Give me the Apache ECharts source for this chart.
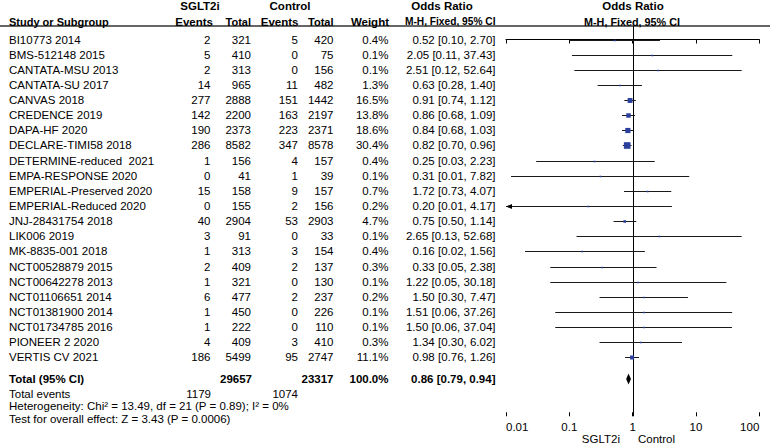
<!DOCTYPE html>
<html>
<head>
<meta charset="utf-8">
<script src="https://cdn.jsdelivr.net/npm/echarts@6.0.0/dist/echarts.min.js"></script>
<style>
html,body{margin:0;padding:0;background:#fff;}
#chart{width:770px;height:448px;}
</style>
</head>
<body>
<div id="chart"></div>
<script>
// ---------------- DATA ----------------
const studies = ["BI10773 2014","BMS-512148 2015","CANTATA-MSU 2013","CANTATA-SU 2017","CANVAS 2018","CREDENCE 2019","DAPA-HF 2020","DECLARE-TIMI58 2018","DETERMINE-reduced  2021","EMPA-RESPONSE 2020","EMPERIAL-Preserved 2020","EMPERIAL-Reduced 2020","JNJ-28431754 2018","LIK006 2019","MK-8835-001 2018","NCT00528879 2015","NCT00642278 2013","NCT01106651 2014","NCT01381900 2014","NCT01734785 2016","PIONEER 2 2020","VERTIS CV 2021"];
const sglt2Events = [2,5,2,14,277,142,190,286,1,0,15,0,40,3,1,2,1,6,1,1,4,186];
const sglt2Total  = [321,410,313,965,2888,2200,2373,8582,156,41,158,155,2904,91,313,409,321,477,450,222,409,5499];
const ctrlEvents  = [5,0,0,11,151,163,223,347,4,1,9,2,53,0,3,2,0,2,0,0,3,95];
const ctrlTotal   = [420,75,156,482,1442,2197,2371,8578,157,39,157,156,2903,33,154,137,130,237,226,110,410,2747];
const weights     = [0.4,0.1,0.1,1.3,16.5,13.8,18.6,30.4,0.4,0.1,0.7,0.2,4.7,0.1,0.4,0.3,0.1,0.2,0.1,0.1,0.3,11.1];
const oddsRatio   = [0.52,2.05,2.51,0.63,0.91,0.86,0.84,0.82,0.25,0.31,1.72,0.20,0.75,2.65,0.16,0.33,1.22,1.50,1.51,1.50,1.34,0.98];
const ciLower     = [0.10,0.11,0.12,0.28,0.74,0.68,0.68,0.70,0.03,0.012,0.73,0.0096,0.50,0.13,0.02,0.05,0.05,0.30,0.06,0.06,0.30,0.76];
const ciUpper     = [2.70,37.43,52.64,1.40,1.12,1.09,1.03,0.96,2.23,7.82,4.07,4.17,1.14,52.68,1.56,2.38,30.18,7.47,37.26,37.04,6.02,1.26];

const totalSglt2 = 29657, totalCtrl = 23317, totalWeight = 100.0;
const totalEventsSglt2 = 1179, totalEventsCtrl = 1074;
const pooled = [0.86, 0.79, 0.94];
const heterogeneityText = "Heterogeneity: Chi\u00b2 = 13.49, df = 21 (P = 0.89); I\u00b2 = 0%";
const overallText = "Test for overall effect: Z = 3.43 (P = 0.0006)";

const tickValues = [0.01, 0.1, 1, 10, 100];
const tickLabels = ["0.01", "0.1", "1", "10", "100"];
const groupLabels = ["SGLT2i", "Control"];
const favourLabels = ["SGLT2i", "Control"];

// ---------------- LAYOUT ----------------
const W = 770, H = 448;
const rowH = 15.14, row0Y = 39.5;
const rowOf = y => (y - row0Y) / rowH;     // pixel -> row index (layout only)
const FONT = 'Arial, "Liberation Sans", sans-serif';
const FS = 11.5;
const plotLeft = 506, plotRight = 759.3, plotTop = 26, plotBottom = 416.3;
const xMin = 0.01, xMax = 100;

const rowTotal = 22.42, rowEvents = 23.39, rowHet = 24.23, rowTest = 25.07;
const rowHead1 = -2.19, rowHead2 = -1.17, rowFavour = rowOf(439);

// column anchors (px)
const colName = 9, colE1 = 210.5, colT1 = 251, colE2 = 298, colT2 = 333.5, colW = 388.5, colOR = 495.5;

const fmtCI = (o, l, h) => o.toFixed(2) + " [" + l.toFixed(2) + ", " + h.toFixed(2) + "]";

// ---------------- TABLE TEXT ----------------
const texts = [];
function T(x, row, text, align, bold, size) { texts.push([x, row, text, align, bold ? 1 : 0, size || FS]); }
T(200, rowHead1, groupLabels[0], 'center', true);
T(290, rowHead1, groupLabels[1], 'center', true);
T(442, rowHead1, "Odds Ratio", 'center', true);
T(633, rowHead1, "Odds Ratio", 'center', true);
T(colName, rowHead2, "Study or Subgroup", 'left', true, 11);
T(213, rowHead2, "Events", 'right', true);
T(colT1, rowHead2, "Total", 'right', true, 11);
T(298.5, rowHead2, "Events", 'right', true);
T(colT2, rowHead2, "Total", 'right', true, 11);
T(389, rowHead2, "Weight", 'right', true);
T(colOR, rowHead2, "M-H, Fixed, 95% CI", 'right', true, 10.2);
T(632, rowHead2, "M-H, Fixed, 95% CI", 'center', true, 10.8);
studies.forEach((s, i) => {
  T(colName, i, s, 'left', false);
  T(colE1, i, String(sglt2Events[i]), 'right', false);
  T(colT1, i, String(sglt2Total[i]), 'right', false);
  T(colE2, i, String(ctrlEvents[i]), 'right', false);
  T(colT2, i, String(ctrlTotal[i]), 'right', false);
  T(colW, i, weights[i].toFixed(1) + "%", 'right', false);
  T(colOR, i, fmtCI(oddsRatio[i], ciLower[i], ciUpper[i]), 'right', false);
});
T(colName, rowTotal, "Total (95% CI)", 'left', true);
T(colT1 + 1, rowTotal, String(totalSglt2), 'right', true);
T(colT2, rowTotal, String(totalCtrl), 'right', true);
T(colW, rowTotal, totalWeight.toFixed(1) + "%", 'right', true);
T(colOR, rowTotal, fmtCI(pooled[0], pooled[1], pooled[2]), 'right', true);
T(colName, rowEvents, "Total events", 'left', false);
T(colE1 + 0.5, rowEvents, String(totalEventsSglt2), 'right', false);
T(colE2, rowEvents, String(totalEventsCtrl), 'right', false);
T(colName, rowHet, heterogeneityText, 'left', false);
T(colName, rowTest, overallText, 'left', false);
T(620, rowFavour, favourLabels[0], 'right', false);
T(638, rowFavour, favourLabels[1], 'left', false);

// forest data
const forestData = studies.map((s, i) => [oddsRatio[i], i, ciLower[i], ciUpper[i], weights[i]]);

const chart = echarts.init(document.getElementById('chart'), null, { renderer: 'svg', width: W, height: H });

const forestYMin = rowOf(plotTop), forestYMax = rowOf(plotBottom);

const option = {
  animation: false,
  backgroundColor: '#fff',
  grid: [
    { left: 0, top: 0, width: W, height: H, outerBoundsMode: 'none', containLabel: false },
    { left: plotLeft, top: plotTop, width: plotRight - plotLeft, height: plotBottom - plotTop, outerBoundsMode: 'none', containLabel: false }
  ],
  xAxis: [
    { gridIndex: 0, type: 'value', min: 0, max: W, show: false },
    { gridIndex: 1, type: 'log', logBase: 10, min: xMin, max: xMax, position: 'bottom',
      axisLine: { show: true, lineStyle: { color: '#000', width: 1 } },
      axisTick: { show: true, inside: false, length: 4, lineStyle: { color: '#000', width: 1 } },
      splitLine: { show: false }, minorTick: { show: false },
      axisLabel: { show: true, color: '#000', fontSize: FS, fontFamily: FONT, margin: 5,
        alignMinLabel: 'left', alignMaxLabel: 'right',
        formatter: v => { const k = tickValues.findIndex(t => Math.abs(Math.log10(t) - Math.log10(v)) < 1e-6); return k >= 0 ? tickLabels[k] : ''; } } },
    { gridIndex: 1, type: 'log', logBase: 10, min: xMin, max: xMax, position: 'bottom',
      axisLine: { show: false },
      axisTick: { show: true, inside: true, length: 4, lineStyle: { color: '#000', width: 1 } },
      splitLine: { show: false }, axisLabel: { show: false } }
  ],
  yAxis: [
    { gridIndex: 0, type: 'value', inverse: true, min: rowOf(0), max: rowOf(H), show: false },
    { gridIndex: 1, type: 'value', inverse: true, min: forestYMin, max: forestYMax, show: false }
  ],
  graphic: [
    { type: 'line', shape: { x1: 0, y1: 26, x2: W, y2: 26 }, style: { stroke: '#333', lineWidth: 1.3 }, silent: true }
  ],
  series: [
    { // table text
      type: 'custom', xAxisIndex: 0, yAxisIndex: 0, silent: true, clip: false,
      data: texts,
      encode: { x: 0, y: 1 },
      renderItem: (params, api) => {
        const d = texts[params.dataIndex];
        const p = api.coord([d[0], d[1]]);
        return { type: 'text', x: p[0], y: p[1],
          style: { text: d[2], fill: '#000', align: d[3], verticalAlign: 'middle',
                   fontSize: d[5], fontFamily: FONT, fontWeight: d[4] ? 'bold' : 'normal' } };
      }
    },
    { // reference line at OR = 1
      type: 'custom', xAxisIndex: 1, yAxisIndex: 1, silent: true, clip: false,
      data: [[1, forestYMin, forestYMax]],
      encode: { x: 0, y: 1 },
      renderItem: (params, api) => {
        const a = api.coord([api.value(0), api.value(1)]);
        const b = api.coord([api.value(0), api.value(2)]);
        const x = Math.round(a[0]) + 0.5;
        return { type: 'line', shape: { x1: x, y1: a[1], x2: x, y2: b[1] }, style: { stroke: '#000', lineWidth: 1 } };
      }
    },
    { // study CIs and squares
      type: 'custom', xAxisIndex: 1, yAxisIndex: 1, silent: true, clip: false,
      data: forestData,
      encode: { x: 0, y: 1 },
      renderItem: (params, api) => {
        const est = api.value(0), row = api.value(1), lo = api.value(2), hi = api.value(3), w = api.value(4);
        const pL = api.coord([Math.max(lo, xMin), row]);
        const pH = api.coord([Math.min(hi, xMax), row]);
        const pE = api.coord([est, row]);
        const y = Math.round(pE[1]) + 0.5;
        const children = [
          { type: 'line', shape: { x1: pL[0], y1: y, x2: pH[0], y2: y }, style: { stroke: '#1a1a1a', lineWidth: 1 } }
        ];
        if (lo < xMin) {
          children.push({ type: 'polygon', shape: { points: [[pL[0], y], [pL[0] + 6, y - 2.5], [pL[0] + 6, y + 2.5]] }, style: { fill: '#000' } });
        }
        if (hi > xMax) {
          children.push({ type: 'polygon', shape: { points: [[pH[0], y], [pH[0] - 6, y - 2.5], [pH[0] - 6, y + 2.5]] }, style: { fill: '#000' } });
        }
        const s = Math.max(1.6, 1.2 * Math.sqrt(w));
        children.push({ type: 'rect', shape: { x: pE[0] - s / 2, y: y - s / 2, width: s, height: s }, style: { fill: '#2a3f9e' } });
        return { type: 'group', children };
      }
    },
    { // pooled diamond
      type: 'custom', xAxisIndex: 1, yAxisIndex: 1, silent: true, clip: false,
      data: [[pooled[0], rowTotal, pooled[1], pooled[2]]],
      encode: { x: 0, y: 1 },
      renderItem: (params, api) => {
        const pE = api.coord([api.value(0), api.value(1)]);
        const pL = api.coord([api.value(2), api.value(1)]);
        const pH = api.coord([api.value(3), api.value(1)]);
        const h = 5.5;
        return { type: 'polygon', shape: { points: [[pL[0], pE[1]], [pE[0], pE[1] - h], [pH[0], pE[1]], [pE[0], pE[1] + h]] }, style: { fill: '#000' } };
      }
    }
  ]
};
chart.setOption(option);
</script>
</body>
</html>
